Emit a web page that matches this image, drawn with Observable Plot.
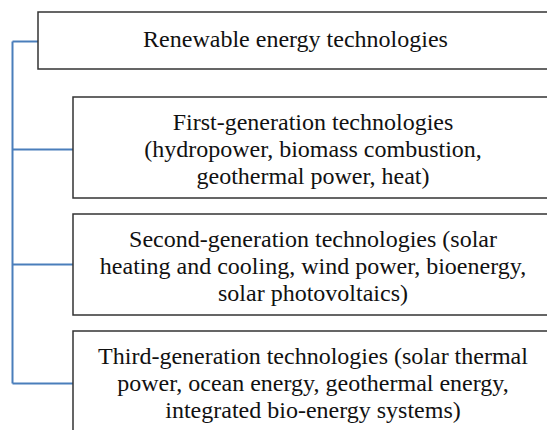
<!DOCTYPE html>
<html><head><meta charset="utf-8">
<script src="https://cdn.jsdelivr.net/npm/d3@7"></script>
<script src="https://cdn.jsdelivr.net/npm/@observablehq/plot@0.6"></script>
<style>body{margin:0;background:#fff}</style>
</head><body><div id="chart"></div>
<script>
const rootLabel = ["Renewable energy technologies"];
const childLabels = [
  "First-generation technologies\n(hydropower, biomass combustion,\ngeothermal power, heat)",
  "Second-generation technologies (solar\nheating and cooling, wind power, bioenergy,\nsolar photovoltaics)",
  "Third-generation technologies (solar thermal\npower, ocean energy, geothermal energy,\nintegrated bio-energy systems)"
];

// layout
const W = 547, H = 430;
const root = {x1: 38, x2: 552, y1: 12, y2: 69};
const childX1 = 73, childX2 = 552, childTop = 97, childH = 101, childStep = 117;
const spineX = 12;

const nodes = [{label: rootLabel[0], ...root, cy: 38}];
childLabels.forEach((label, i) => {
  const y1 = childTop + i * childStep;
  nodes.push({label, x1: childX1, x2: childX2, y1, y2: y1 + childH, cy: y1 + 51});
});
const children = nodes.slice(1);
const linkOff = [52, 50, 52];
const linkY = children.map((d, i) => d.y1 + linkOff[i]);

const links = [
  {x1: spineX, x2: root.x1, y1: 41, y2: 41},
  {x1: spineX, x2: spineX, y1: 41, y2: linkY[linkY.length - 1]},
  ...children.map((d, i) => ({x1: spineX, x2: d.x1, y1: linkY[i], y2: linkY[i]}))
];

const chart = Plot.plot({
  width: W, height: H, margin: 0,
  x: {type: "identity", axis: null},
  y: {type: "identity", axis: null},
  style: {fontFamily: "Liberation Serif, serif", background: "#fff"},
  marks: [
    Plot.link(links, {x1: "x1", y1: "y1", x2: "x2", y2: "y2", stroke: "#4a7ebb", strokeWidth: 2}),
    Plot.rect(nodes, {x1: "x1", x2: "x2", y1: "y1", y2: "y2", fill: "white", stroke: "#333", strokeWidth: 1.5}),
    Plot.text(nodes, {x: d => (d.x1 + d.x2) / 2, y: "cy", text: "label", fontSize: 24, lineHeight: 1.125, fill: "#111", textAnchor: "middle", fontFamily: "Liberation Serif"})
  ]
});
document.getElementById("chart").append(chart);
</script>
</body></html>
